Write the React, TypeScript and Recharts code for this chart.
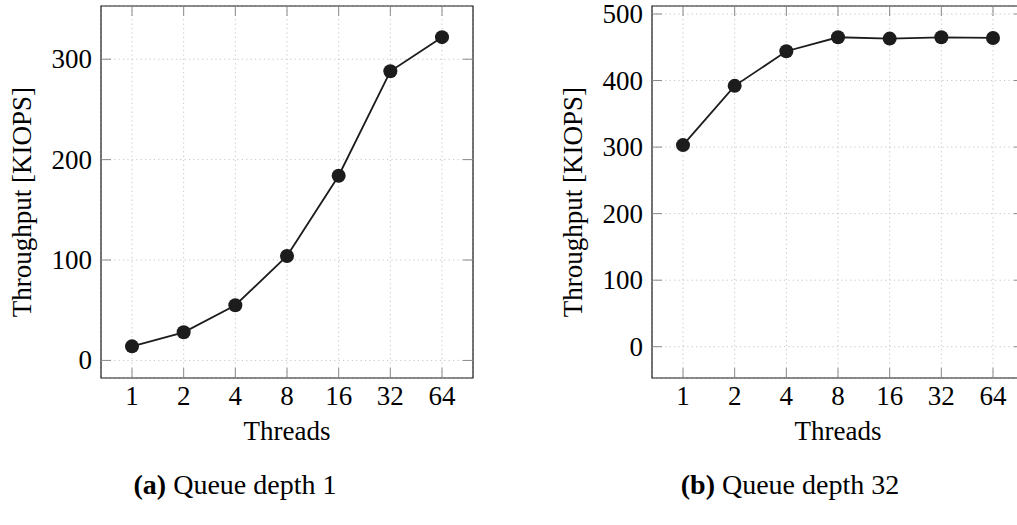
import React from 'react';
import { LineChart, Line, XAxis, YAxis, CartesianGrid, ReferenceArea } from 'recharts';

const threads = ['1', '2', '4', '8', '16', '32', '64'];
const qd1Kiops = [14, 28, 55, 104, 184, 288, 322];
const qd32Kiops = [303, 392, 444, 465, 463, 465, 464];
const qd1Ticks = [0, 100, 200, 300];
const qd32Ticks = [0, 100, 200, 300, 400, 500];
const xTicks = threads.map((_, i) => i);

const FONT = '"Liberation Serif", "Times New Roman", serif';
const INK = '#1c1c1c';
const TICK_GRAY = '#8a8a8a';

// chart box geometry (pixels inside each 490x462 svg)
const W = 490;
const H = 462;
const M = { top: 6, right: 17, bottom: 40, left: 41 };
const PLOT_TOP = M.top;
const PLOT_RIGHT = W - M.right;
const TICK_LEN = 10;
const X_MARGIN = 13;
const Y_MARGIN = 10;

// x tick: label below the axis, inward tick marks at bottom and top
const XTick = (props: any) => {
  const { x, y, payload } = props;
  const axisY = y - X_MARGIN;
  return (
    <g>
      <line x1={x} y1={axisY} x2={x} y2={axisY - TICK_LEN} stroke={TICK_GRAY} />
      <line x1={x} y1={PLOT_TOP} x2={x} y2={PLOT_TOP + TICK_LEN} stroke={TICK_GRAY} />
      <text x={x} y={axisY + 27} textAnchor="middle" fontFamily={FONT} fontSize={27} fill="#000">
        {threads[payload.value]}
      </text>
    </g>
  );
};

// y tick: label left of the axis, inward tick marks at left and right
const YTick = (props: any) => {
  const { x, y, payload } = props;
  const axisX = x + Y_MARGIN;
  return (
    <g>
      <line x1={axisX} y1={y} x2={axisX + TICK_LEN} y2={y} stroke={TICK_GRAY} />
      <line x1={PLOT_RIGHT} y1={y} x2={PLOT_RIGHT - TICK_LEN} y2={y} stroke={TICK_GRAY} />
      <text x={axisX - 9} y={y + 9} textAnchor="end" fontFamily={FONT} fontSize={27} fill="#000">
        {payload.value}
      </text>
    </g>
  );
};

const YTitle = (props: any) => {
  const { x, width, y, height } = props.viewBox;
  const cx = x + width - 70;
  const cy = y + height / 2 + 10;
  return (
    <text
      x={cx}
      y={cy}
      transform={`rotate(-90 ${cx} ${cy})`}
      textAnchor="middle"
      fontFamily={FONT}
      fontSize={27}
      fill="#000"
    >
      Throughput [KIOPS]
    </text>
  );
};

const XTitle = (props: any) => {
  const { x, width, y } = props.viewBox;
  return (
    <text x={x + width / 2} y={y + 62} textAnchor="middle" fontFamily={FONT} fontSize={27} fill="#000">
      Threads
    </text>
  );
};

function Panel({ values, yTicks, yDomain }: { values: number[]; yTicks: number[]; yDomain: [number, number] }) {
  const data = threads.map((t, i) => ({ idx: i, threads: t, kiops: values[i] }));
  return (
    <LineChart width={W} height={H} data={data} margin={M}>
      <CartesianGrid stroke="#c4c4c4" strokeDasharray="1.2 3.2" />
      <XAxis
        dataKey="idx"
        type="number"
        domain={[-0.6, 6.6]}
        ticks={xTicks}
        allowDataOverflow
        height={44}
        tickSize={0}
        tickMargin={X_MARGIN}
        tick={<XTick />}
        tickLine={false}
        axisLine={false}
        label={{ content: XTitle }}
      />
      <YAxis
        type="number"
        domain={yDomain}
        ticks={yTicks}
        allowDataOverflow
        width={60}
        tickSize={0}
        tickMargin={Y_MARGIN}
        tick={<YTick />}
        tickLine={false}
        axisLine={false}
        label={{ content: YTitle }}
      />
      <ReferenceArea
        x1={-0.6}
        x2={6.6}
        y1={yDomain[0]}
        y2={yDomain[1]}
        fill="none"
        fillOpacity={0}
        stroke={INK}
        strokeWidth={1.2}
        ifOverflow="visible"
      />
      <Line
        type="linear"
        dataKey="kiops"
        stroke={INK}
        strokeWidth={1.8}
        dot={{ r: 7, fill: INK, stroke: INK, strokeWidth: 0 }}
        activeDot={false}
        isAnimationActive={false}
      />
    </LineChart>
  );
}

const captionStyle: React.CSSProperties = {
  position: 'absolute',
  top: 471,
  width: 400,
  textAlign: 'center',
  fontFamily: FONT,
  fontSize: 28,
  lineHeight: '28px',
  color: '#000',
};

export default function App() {
  return (
    <div style={{ position: 'fixed', top: 0, left: 0, width: 1017, height: 525, overflow: 'hidden', background: '#fff' }}>
      <div style={{ position: 'absolute', left: 0, top: 0 }}>
        <Panel values={qd1Kiops} yTicks={qd1Ticks} yDomain={[-17.5, 353]} />
      </div>
      <div style={{ position: 'absolute', left: 551, top: 0 }}>
        <Panel values={qd32Kiops} yTicks={qd32Ticks} yDomain={[-47, 512]} />
      </div>
      <div style={{ ...captionStyle, left: 35 }}>
        <b>(a)</b> Queue depth 1
      </div>
      <div style={{ ...captionStyle, left: 590 }}>
        <b>(b)</b> Queue depth 32
      </div>
    </div>
  );
}
